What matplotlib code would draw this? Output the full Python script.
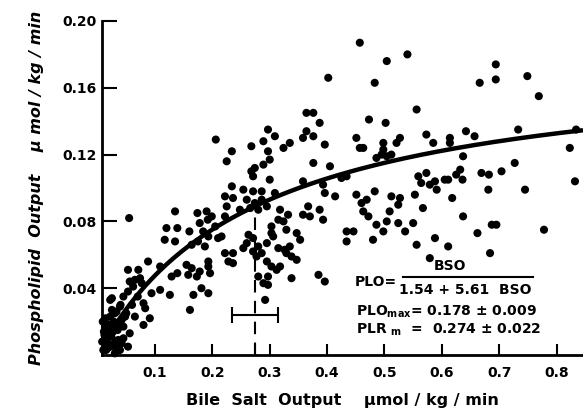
import numpy as np
import matplotlib
matplotlib.use("Agg")
import matplotlib.pyplot as plt

plt.rcParams['font.family'] = ['DejaVu Sans']
plt.rcParams['font.weight'] = 'bold'
plt.rcParams['mathtext.default'] = 'bf'

# bile salt output (x) and phospholipid output (y)
bso = [
    0.055, 0.135, 0.174, 0.19, 0.12, 0.139, 0.117, 0.135, 0.16, 0.178, 0.192, 0.205,
    0.21, 0.164, 0.175, 0.187, 0.088, 0.109, 0.155, 0.164, 0.193, 0.053, 0.071, 0.129,
    0.139, 0.158, 0.173, 0.178, 0.193, 0.196, 0.056, 0.065, 0.074, 0.181, 0.193, 0.094,
    0.109, 0.126, 0.167, 0.025, 0.045, 0.053, 0.062, 0.077, 0.08, 0.083, 0.161, 0.022,
    0.033, 0.042, 0.065, 0.08, 0.091, 0.045, 0.056, 0.013, 0.016, 0.027, 0.036, 0.022,
    0.01, 0.039, 0.053, 0.03,
    0.008, 0.012, 0.018, 0.02, 0.028, 0.031, 0.015, 0.045, 0.035, 0.025, 0.04, 0.06,
    0.05, 0.07, 0.022, 0.039, 0.03, 0.048,
    0.011, 0.017, 0.024, 0.033, 0.042, 0.009, 0.014, 0.026, 0.019, 0.037,
    0.199, 0.184, 0.193, 0.206,
    0.364, 0.376, 0.387, 0.297, 0.309, 0.289, 0.268, 0.364, 0.358, 0.376, 0.335, 0.324,
    0.396, 0.234, 0.225, 0.297, 0.3, 0.289, 0.274, 0.268, 0.271, 0.376, 0.3, 0.358,
    0.405, 0.234, 0.254, 0.271, 0.286, 0.309, 0.222, 0.236, 0.26, 0.274, 0.286, 0.266,
    0.295, 0.28, 0.225, 0.222, 0.248, 0.318, 0.332, 0.367, 0.358, 0.37, 0.387, 0.315,
    0.303, 0.324, 0.329, 0.216, 0.263, 0.26, 0.254, 0.271, 0.28, 0.271, 0.286, 0.277,
    0.295, 0.303, 0.306, 0.347, 0.353, 0.315, 0.326, 0.338, 0.335, 0.329, 0.347, 0.222,
    0.236, 0.228, 0.236, 0.295, 0.303, 0.312, 0.318, 0.28, 0.297, 0.289, 0.297, 0.338,
    0.385, 0.396, 0.292,
    0.457, 0.504, 0.54, 0.402, 0.483, 0.556, 0.473, 0.502, 0.451, 0.457, 0.463, 0.498,
    0.498, 0.527, 0.521, 0.573, 0.585, 0.486, 0.495, 0.504, 0.512, 0.425, 0.434, 0.559,
    0.573, 0.564, 0.579, 0.588, 0.591, 0.393, 0.396, 0.414, 0.451, 0.46, 0.469, 0.463,
    0.472, 0.483, 0.512, 0.527, 0.524, 0.553, 0.567, 0.509, 0.504, 0.486, 0.498, 0.524,
    0.536, 0.55, 0.393, 0.434, 0.446, 0.434, 0.48, 0.556, 0.588, 0.579,
    0.694, 0.666, 0.694, 0.749, 0.769, 0.642, 0.657, 0.614, 0.614, 0.733, 0.834, 0.823,
    0.637, 0.727, 0.704, 0.669, 0.682, 0.632, 0.625, 0.636, 0.605, 0.611, 0.832, 0.681,
    0.745, 0.618, 0.637, 0.687, 0.695, 0.662, 0.778, 0.611, 0.684,
]
plo = [
    0.082, 0.086, 0.085, 0.086, 0.076, 0.076, 0.069, 0.068, 0.074, 0.079, 0.081, 0.077,
    0.07, 0.066, 0.068, 0.065, 0.056, 0.053, 0.054, 0.052, 0.056, 0.051, 0.051, 0.047,
    0.049, 0.048, 0.047, 0.05, 0.053, 0.049, 0.044, 0.045, 0.046, 0.04, 0.037, 0.037,
    0.039, 0.036, 0.036, 0.034, 0.035, 0.038, 0.041, 0.043, 0.031, 0.028, 0.027, 0.023,
    0.026, 0.021, 0.023, 0.018, 0.022, 0.017, 0.013, 0.017, 0.011, 0.014, 0.009, 0.005,
    0.003, 0.003, 0.005, 0.001,
    0.008, 0.012, 0.007, 0.018, 0.02, 0.008, 0.003, 0.01, 0.015, 0.027, 0.03, 0.03,
    0.025, 0.035, 0.033, 0.029, 0.025, 0.023,
    0.014, 0.004, 0.011, 0.004, 0.007, 0.02, 0.022, 0.006, 0.015, 0.019,
    0.083, 0.074, 0.071, 0.129,
    0.145, 0.145, 0.139, 0.135, 0.131, 0.128, 0.125, 0.134, 0.13, 0.131, 0.127, 0.124,
    0.126, 0.122, 0.116, 0.122, 0.117, 0.114, 0.112, 0.11, 0.107, 0.115, 0.105, 0.104,
    0.113, 0.101, 0.099, 0.098, 0.098, 0.097, 0.095, 0.094, 0.093, 0.091, 0.093, 0.088,
    0.089, 0.087, 0.089, 0.083, 0.087, 0.087, 0.084, 0.089, 0.084, 0.083, 0.087, 0.081,
    0.077, 0.08, 0.075, 0.071, 0.072, 0.067, 0.064, 0.07, 0.065, 0.062, 0.061, 0.059,
    0.067, 0.073, 0.071, 0.073, 0.069, 0.064, 0.063, 0.059, 0.065, 0.061, 0.057, 0.061,
    0.061, 0.056, 0.055, 0.056, 0.053, 0.051, 0.053, 0.047, 0.047, 0.043, 0.042, 0.046,
    0.048, 0.044, 0.033,
    0.187, 0.176, 0.18, 0.166, 0.163, 0.147, 0.141, 0.139, 0.13, 0.124, 0.124, 0.127,
    0.123, 0.13, 0.127, 0.132, 0.127, 0.118, 0.12, 0.119, 0.12, 0.106, 0.107, 0.107,
    0.109, 0.103, 0.102, 0.104, 0.099, 0.102, 0.097, 0.095, 0.096, 0.091, 0.093, 0.086,
    0.083, 0.098, 0.095, 0.094, 0.09, 0.096, 0.088, 0.086, 0.08, 0.078, 0.074, 0.079,
    0.074, 0.079, 0.081, 0.074, 0.074, 0.068, 0.069, 0.066, 0.07, 0.058,
    0.174, 0.163, 0.165, 0.167, 0.155, 0.134, 0.131, 0.13, 0.127, 0.135, 0.135, 0.124,
    0.119, 0.115, 0.11, 0.109, 0.108, 0.111, 0.108, 0.105, 0.105, 0.105, 0.104, 0.099,
    0.099, 0.094, 0.083, 0.078, 0.078, 0.073, 0.075, 0.065, 0.061,
]

# fitted curve PLO = BSO / (a + b * BSO)
fit_a = 1.54
fit_b = 5.61
plr_m = 0.274
bar_y = 0.024
bar_half = 0.04

xticks = [0.1, 0.2, 0.3, 0.4, 0.5, 0.6, 0.7, 0.8]
yticks = [0.04, 0.08, 0.12, 0.16, 0.20]

W, H = 583, 415
fig = plt.figure(figsize=(W / 100, H / 100), dpi=100)
ax = fig.add_axes([102 / W, 1 - 355 / H, (W - 102) / W, (355 - 21) / H])

ax.scatter(bso, plo, s=34, c='black', edgecolors='none', zorder=3, clip_on=False)

xs = np.linspace(0.0077, 0.846, 200)
ax.plot(xs, xs / (fit_a + fit_b * xs), color='black', lw=3.2, zorder=4,
        solid_capstyle='butt')

y_top = plr_m / (fit_a + fit_b * plr_m)
ax.plot([plr_m, plr_m], [0, y_top], color='black', lw=1.5, dashes=(6, 4), zorder=2)
ax.errorbar(plr_m, bar_y, xerr=bar_half, fmt='none', ecolor='black',
            elinewidth=1.5, capsize=6, capthick=1.5)

ax.set_xlim(0.0077, 0.846)
ax.set_ylim(0, 0.20)
ax.spines['top'].set_visible(False)
ax.spines['right'].set_visible(False)
ax.spines['left'].set_linewidth(2)
ax.spines['bottom'].set_linewidth(2)

ax.set_xticks(xticks + [plr_m])
ax.set_xticklabels([f"{t:.1f}" for t in xticks] + [''])
ax.set_yticks(yticks)
ax.set_yticklabels([f"{t:.2f}" for t in yticks])
ax.tick_params(axis='x', direction='in', length=8, width=1.5, labelsize=10, pad=8)
ax.tick_params(axis='y', direction='in', length=11, width=1.5, labelsize=10, pad=4)

ax.set_xlabel("Bile  Salt  Output    \u03bcmol / kg / min", fontsize=11.5,
              fontweight='bold', labelpad=9)
ax.set_ylabel("Phospholipid  Output    \u03bc mol / kg / min", fontsize=11.5,
              fontweight='bold', style='italic', labelpad=13)

# equation block
ax.text(0.448, 0.044, "PLO=", fontsize=10, fontweight='bold', va='center')
ax.plot([0.532, 0.759], [0.047, 0.047], color='black', lw=1.5)
ax.text(0.614, 0.053, "BSO", fontsize=10, fontweight='bold', ha='center', va='center')
ax.text(0.641, 0.039, "1.54 + 5.61  BSO", fontsize=10, fontweight='bold',
        ha='center', va='center')
ax.text(0.450, 0.026, "PLO$_{max}$= 0.178 \u00b1 0.009", fontsize=10,
        fontweight='bold', va='center')
ax.text(0.450, 0.015, "PLR $_{m}$  =  0.274 \u00b1 0.022", fontsize=10,
        fontweight='bold', va='center')

fig.savefig("out.png", dpi=100)
